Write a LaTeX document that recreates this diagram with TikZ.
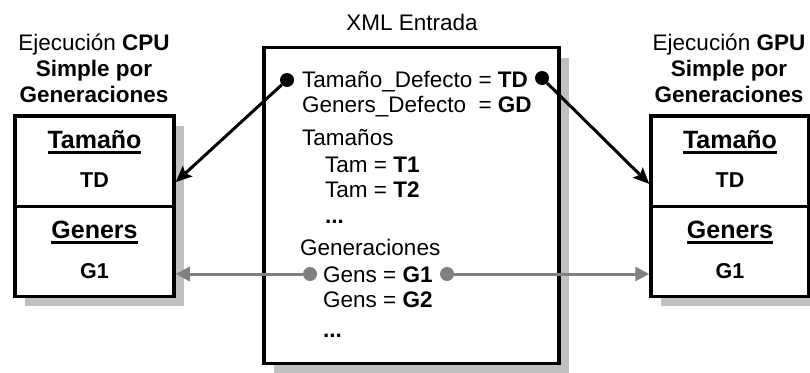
\documentclass[tikz,border=0pt]{standalone}
\usepackage{fontspec}
\setmainfont{Liberation Sans}
\usetikzlibrary{arrows.meta, positioning, calc, shadows}
\definecolor{linegray}{HTML}{808080}
\definecolor{shadowgray}{HTML}{C0C0C0}
\newsavebox{\ulbox}
\newcommand{\ulword}[1]{\sbox{\ulbox}{#1}\rlap{\rule[-5.5pt]{\wd\ulbox}{2.5pt}}\usebox{\ulbox}}

\begin{document}
\begin{tikzpicture}[
    x=1pt, y=-1pt,
    txt/.style={anchor=base west, inner sep=0pt, font=\fontsize{22.5pt}{26pt}\selectfont},
    head/.style={anchor=south, inner sep=0pt, align=center, font=\fontsize{22.5pt}{26pt}\selectfont},
    boxhead/.style={anchor=base, inner sep=0pt, font=\fontsize{25pt}{28pt}\selectfont\bfseries},
    boxval/.style={anchor=base, inner sep=0pt, font=\fontsize{21.5pt}{26pt}\selectfont\bfseries},
    panel/.style={rectangle, draw=black, line width=3.5pt, fill=white, inner sep=0pt,
        drop shadow={shadow xshift=10pt, shadow yshift=-10pt, fill=shadowgray, opacity=1}},
    divider/.style={line width=3pt},
    blackdot/.style={circle, fill=black, minimum size=14pt, inner sep=0pt},
    graydot/.style={circle, fill=linegray, minimum size=14pt, inner sep=0pt},
    arrow/.style={line width=3pt, -{Stealth[length=16pt, width=14pt, inset=3pt]}},
    grayarrow/.style={line width=3pt, draw=linegray, -{Triangle[length=14pt, width=14pt]}, color=linegray}
]
\useasboundingbox (0,0) rectangle (810,372);

% Panels
\node[panel, minimum width=295pt, minimum height=316pt] (xml) at (411.5,205.5) {};
\node[panel, minimum width=159pt, minimum height=180.5pt] (cpu) at (94.5,206) {};
\node[panel, minimum width=158pt, minimum height=180.5pt] (gpu) at (730,206) {};
\draw[divider] (cpu.west) -- (cpu.east);
\draw[divider] (gpu.west) -- (gpu.east);

% Titles
\node[anchor=base, inner sep=0pt, font=\fontsize{22.5pt}{26pt}\selectfont] (xmltitle) at (412,30) {XML Entrada};
\node[head] (cputitle) at (94,103) {Ejecución \textbf{CPU}\\\textbf{Simple por}\\\textbf{Generaciones}};
\node[head] (gputitle) at (729,103) {Ejecución \textbf{GPU}\\\textbf{Simple por}\\\textbf{Generaciones}};

% XML lines
\node[txt] (tdef) at (302,87) {Tamaño\_Defecto = \textbf{TD}};
\node[txt] (gdef) at (302,112) {Geners\_Defecto\ \ = \textbf{GD}};
\node[txt] (tams) at (302,145) {Tamaños};
\node[txt] (tam1) at (325,172) {Tam = \textbf{T1}};
\node[txt] (tam2) at (325,197) {Tam = \textbf{T2}};
\node[txt] (tamdots) at (325,223) {\textbf{...}};
\node[txt] (gens) at (300,255) {Generaciones};
\node[txt] (gen1) at (323,282) {Gens = \textbf{G1}};
\node[txt] (gen2) at (323,307) {Gens = \textbf{G2}};
\node[txt] (gendots) at (323,337) {\textbf{...}};

% Panel contents
\node[boxhead] (cputam) at (94.5,148) {\ulword{Tamaño}};
\node[boxval] (cputd) at (94.5,187) {TD};
\node[boxhead] (cpugen) at (94.5,238) {\ulword{Geners}};
\node[boxval] (cpug1) at (94.5,278) {G1};
\node[boxhead] (gputam) at (730,148) {\ulword{Tamaño}};
\node[boxval] (gputd) at (730,187) {TD};
\node[boxhead] (gpugen) at (730,238) {\ulword{Geners}};
\node[boxval] (gpug1) at (730,278) {G1};

% Dots
\node[blackdot] (tddotl) at (287,80) {};
\node[blackdot] (tddotr) at (542,78) {};
\node[graydot] (g1dotl) at (310,274) {};
\node[graydot] (g1dotr) at (447,274) {};

% Connections
\draw[arrow] (tddotl) -- ($(cpu.north east)!0.37!(cpu.south east)$);
\draw[arrow] (tddotr) -- ($(gpu.north west)!0.38!(gpu.south west)$);
\draw[grayarrow] (g1dotl) -- (g1dotl -| cpu.east);
\draw[grayarrow] (g1dotr) -- (g1dotr -| gpu.west);

\end{tikzpicture}
\end{document}
